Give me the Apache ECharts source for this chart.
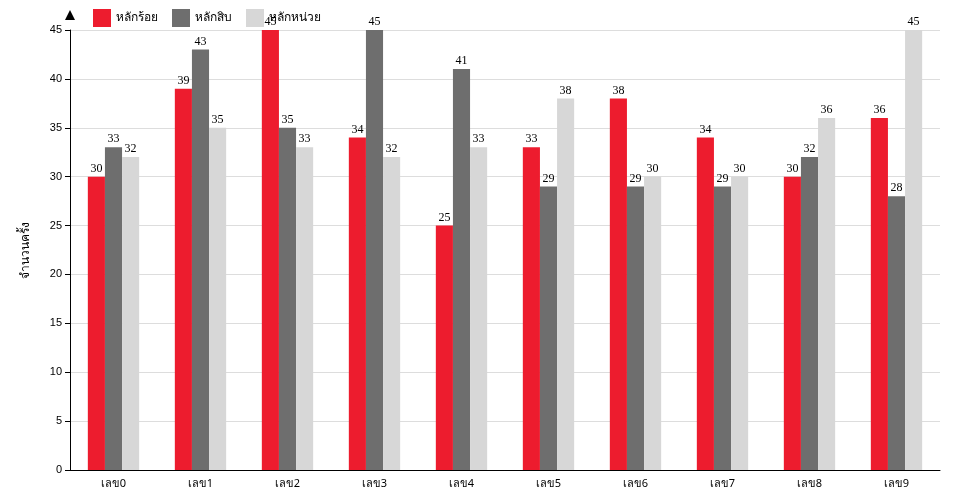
<!DOCTYPE html>
<html>
<head>
<meta charset="utf-8">
<script src="https://cdn.jsdelivr.net/npm/echarts@6/dist/echarts.min.js"></script>
<style>html,body{margin:0;padding:0;background:#fff}#c{width:960px;height:500px}</style>
</head>
<body>
<div id="c"></div>
<script>
var categories = ['เลข0','เลข1','เลข2','เลข3','เลข4','เลข5','เลข6','เลข7','เลข8','เลข9'];
var hundreds = [30,39,45,34,25,33,38,34,30,36];
var tens = [33,43,35,45,41,29,29,29,32,28];
var units = [32,35,33,32,33,38,30,30,36,45];

var chart = echarts.init(document.getElementById('c'));
var label = {show: true, position: 'top', color: '#000', fontFamily: 'Liberation Serif', fontSize: 12, distance: 2};
function bar(name, data, color) {
	return {name: name, type: 'bar', data: data, barGap: 0, barCategoryGap: '41%',
		itemStyle: {color: color}, label: label};
}
chart.setOption({
	animation: false,
	grid: {left: 70, right: 20, top: 30, bottom: 30},
	legend: {
		left: 88, top: 4, itemWidth: 18, itemHeight: 18, itemGap: 14,
		textStyle: {fontSize: 12, color: '#000', fontFamily: 'Noto Sans'},
		icon: 'rect'
	},
	xAxis: {
		type: 'category', data: categories,
		axisLine: {lineStyle: {color: '#000'}},
		axisTick: {lineStyle: {color: '#000'}},
		axisLabel: {color: '#000', fontSize: 11, fontFamily: 'Noto Sans'}
	},
	yAxis: {
		type: 'value', min: 0, max: 45, interval: 5,
		name: 'จำนวนครั้ง', nameLocation: 'middle', nameGap: 38,
		nameTextStyle: {color: '#000', fontSize: 12, fontFamily: 'Noto Sans'},
		axisLine: {show: true, lineStyle: {color: '#000'}, symbol: ['none', 'triangle'], symbolSize: [10, 10], symbolOffset: [0, 15]},
		axisTick: {show: true, lineStyle: {color: '#000'}},
		axisLabel: {color: '#000', fontSize: 11},
		splitLine: {lineStyle: {color: '#ddd'}}
	},
	series: [
		bar('หลักร้อย', hundreds, '#ed1c2e'),
		bar('หลักสิบ', tens, '#6e6e6e'),
		bar('หลักหน่วย', units, '#d7d7d7')
	]
});
</script>
</body>
</html>
